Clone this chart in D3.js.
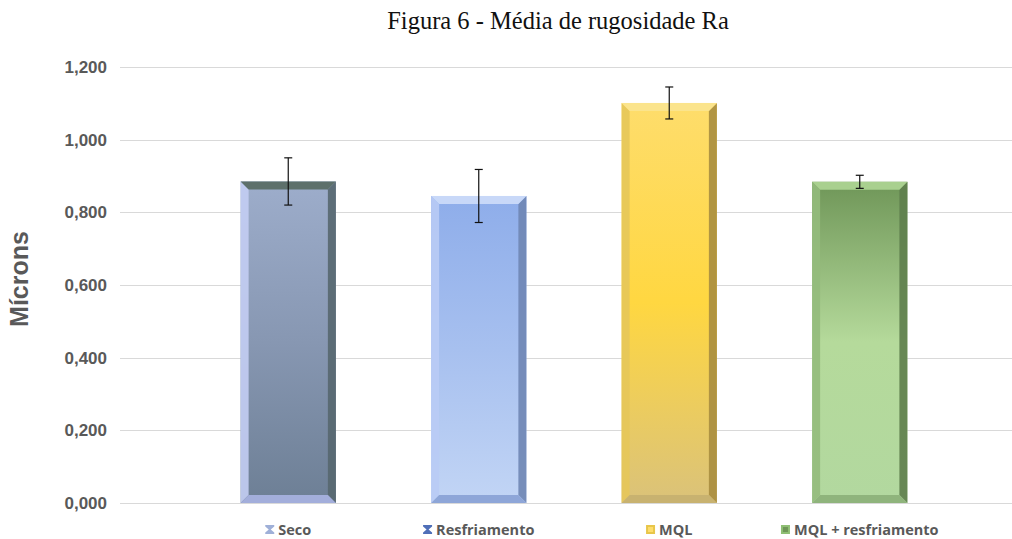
<!DOCTYPE html>
<html>
<head>
<meta charset="utf-8">
<script src="https://cdn.jsdelivr.net/npm/d3@7"></script>
<style>
  body { margin: 0; background: #fff; }
  svg { display: block; }
</style>
</head>
<body>
<svg id="chart" width="1012" height="539"></svg>
<script>
const categories = ['Seco', 'Resfriamento', 'MQL', 'MQL + resfriamento']
const means = [0.885, 0.845, 1.101, 0.884]
const errors = [0.065, 0.073, 0.044, 0.018]
const yTicks = [0, 0.2, 0.4, 0.6, 0.8, 1.0, 1.2]

// colours per bar: body top / mid / bottom, left edge, right edge, top face, bottom face
const palettes = [
  { top: '#9dadcb', mid: '#8797b2', bot: '#6d7f95', left: '#c3cdf3', right: '#56676f', cap: '#5d706b', base: '#a3aedb' },
  { top: '#8eadea', mid: '#a7c0ef', bot: '#c2d5f5', left: '#b9cbf5', right: '#6f86b4', cap: '#c8d8f8', base: '#8ea6d8' },
  { top: '#fedd6c', mid: '#ffd741', bot: '#dac27a', left: '#e6c65a', right: '#a88d3f', cap: '#fbe48c', base: '#c8b270' },
  { top: '#6f9658', mid: '#b5da9b', bot: '#b2d89f', left: '#93bb7c', right: '#5e7e4c', cap: '#a9d08f', base: '#8fb47c' }
]
const legendIcon = ['#9fb0d8', '#4f6fb8', '#e8c64a', '#8fbf74']

const svg = d3.select('#chart')
const margin = { left: 120, right: 0, top: 67, bottom: 36 }
const W = 1012, H = 539

const y = d3.scaleLinear().domain([0, 1.2]).range([H - margin.bottom, margin.top])
const x = d3.scaleBand().domain(categories).range([193, 955]).paddingInner(0.5).paddingOuter(0.25)

// gradients
const defs = svg.append('defs')
palettes.forEach((p, i) => {
  const g = defs.append('linearGradient').attr('id', 'g' + i).attr('x1', 0).attr('y1', 0).attr('x2', 0).attr('y2', 1)
  g.append('stop').attr('offset', '0%').attr('stop-color', p.top)
  g.append('stop').attr('offset', '50%').attr('stop-color', p.mid)
  g.append('stop').attr('offset', '100%').attr('stop-color', p.bot)
})

// title
svg.append('text')
  .attr('x', 558).attr('y', 29)
  .attr('text-anchor', 'middle')
  .style('font-family', '"Liberation Serif", "Times New Roman", serif')
  .style('font-size', '24.5px')
  .attr('fill', '#111')
  .text('Figura 6 - Média de rugosidade Ra')

// grid + y labels
svg.append('g').selectAll('line')
  .data(yTicks)
  .join('line')
  .attr('x1', margin.left).attr('x2', W)
  .attr('y1', d => Math.round(y(d)) + 0.5).attr('y2', d => Math.round(y(d)) + 0.5)
  .attr('stroke', '#d9d9d9').attr('stroke-width', 1)

svg.append('g').selectAll('text')
  .data(yTicks)
  .join('text')
  .attr('x', 107).attr('y', d => y(d) + 6)
  .attr('text-anchor', 'end')
  .style('font-family', '"Liberation Sans", Arial, sans-serif')
  .style('font-weight', 'bold')
  .style('font-size', '17px')
  .attr('fill', '#595959')
  .text(d => d3.format('.3f')(d).replace('.', ','))

svg.append('text')
  .attr('transform', `translate(28, 279) rotate(-90)`)
  .attr('text-anchor', 'middle')
  .style('font-family', '"Liberation Sans", Arial, sans-serif')
  .style('font-weight', 'bold')
  .style('font-size', '25px')
  .attr('fill', '#595959')
  .text('Mícrons')

// bars with bevels
const bv = 8
const bars = svg.append('g').selectAll('g')
  .data(categories)
  .join('g')

bars.each(function (c, i) {
  const g = d3.select(this)
  const p = palettes[i]
  const x0 = x(c), x1 = x(c) + x.bandwidth()
  const y0 = y(means[i]), y1 = y(0)
  g.append('rect').attr('x', x0).attr('y', y0).attr('width', x1 - x0).attr('height', y1 - y0).attr('fill', `url(#g${i})`)
  g.append('polygon').attr('points', [[x0, y0], [x0 + bv, y0 + bv], [x0 + bv, y1 - bv], [x0, y1]].join(' ')).attr('fill', p.left).attr('opacity', 0.9)
  g.append('polygon').attr('points', [[x1, y0], [x1 - bv, y0 + bv], [x1 - bv, y1 - bv], [x1, y1]].join(' ')).attr('fill', p.right).attr('opacity', 0.9)
  g.append('polygon').attr('points', [[x0, y0], [x1, y0], [x1 - bv, y0 + bv], [x0 + bv, y0 + bv]].join(' ')).attr('fill', p.cap)
  g.append('polygon').attr('points', [[x0, y1], [x1, y1], [x1 - bv, y1 - bv], [x0 + bv, y1 - bv]].join(' ')).attr('fill', p.base)
})

// error bars
const eb = svg.append('g').selectAll('g')
  .data(categories)
  .join('g')
  .attr('stroke', '#111').attr('stroke-width', 1.2)
eb.append('line')
  .attr('x1', c => x(c) + x.bandwidth() / 2).attr('x2', c => x(c) + x.bandwidth() / 2)
  .attr('y1', (c, i) => y(means[i] + errors[i])).attr('y2', (c, i) => y(means[i] - errors[i]))
eb.append('line')
  .attr('x1', c => x(c) + x.bandwidth() / 2 - 4).attr('x2', c => x(c) + x.bandwidth() / 2 + 4)
  .attr('y1', (c, i) => y(means[i] + errors[i])).attr('y2', (c, i) => y(means[i] + errors[i]))
eb.append('line')
  .attr('x1', c => x(c) + x.bandwidth() / 2 - 4).attr('x2', c => x(c) + x.bandwidth() / 2 + 4)
  .attr('y1', (c, i) => y(means[i] - errors[i])).attr('y2', (c, i) => y(means[i] - errors[i]))

// legend, each item centred under its bar
const leg = svg.append('g').selectAll('g')
  .data(categories)
  .join('g')
leg.append('path')
  .attr('d', (c, i) => i < 2 ? 'M0,0H9V1.5L5.5,4.5L9,7.5V9H0V7.5L3.5,4.5L0,1.5Z' : 'M0,0H9V9H0Z')
  .attr('fill', (c, i) => legendIcon[i])
leg.append('rect')
  .attr('x', 2).attr('y', 2).attr('width', 5).attr('height', 5)
  .attr('fill', (c, i) => i < 2 ? 'none' : palettes[i].top)
leg.append('text')
  .attr('x', 13).attr('y', 10)
  .style('font-family', '"Open Sans", sans-serif')
  .style('font-weight', 'bold')
  .style('font-size', '14.5px')
  .attr('fill', '#595959')
  .text(c => c)
leg.attr('transform', function (c) {
  const w = 13 + d3.select(this).select('text').node().getComputedTextLength()
  return `translate(${x(c) + x.bandwidth() / 2 - w / 2}, 525)`
})
</script>
</body>
</html>
